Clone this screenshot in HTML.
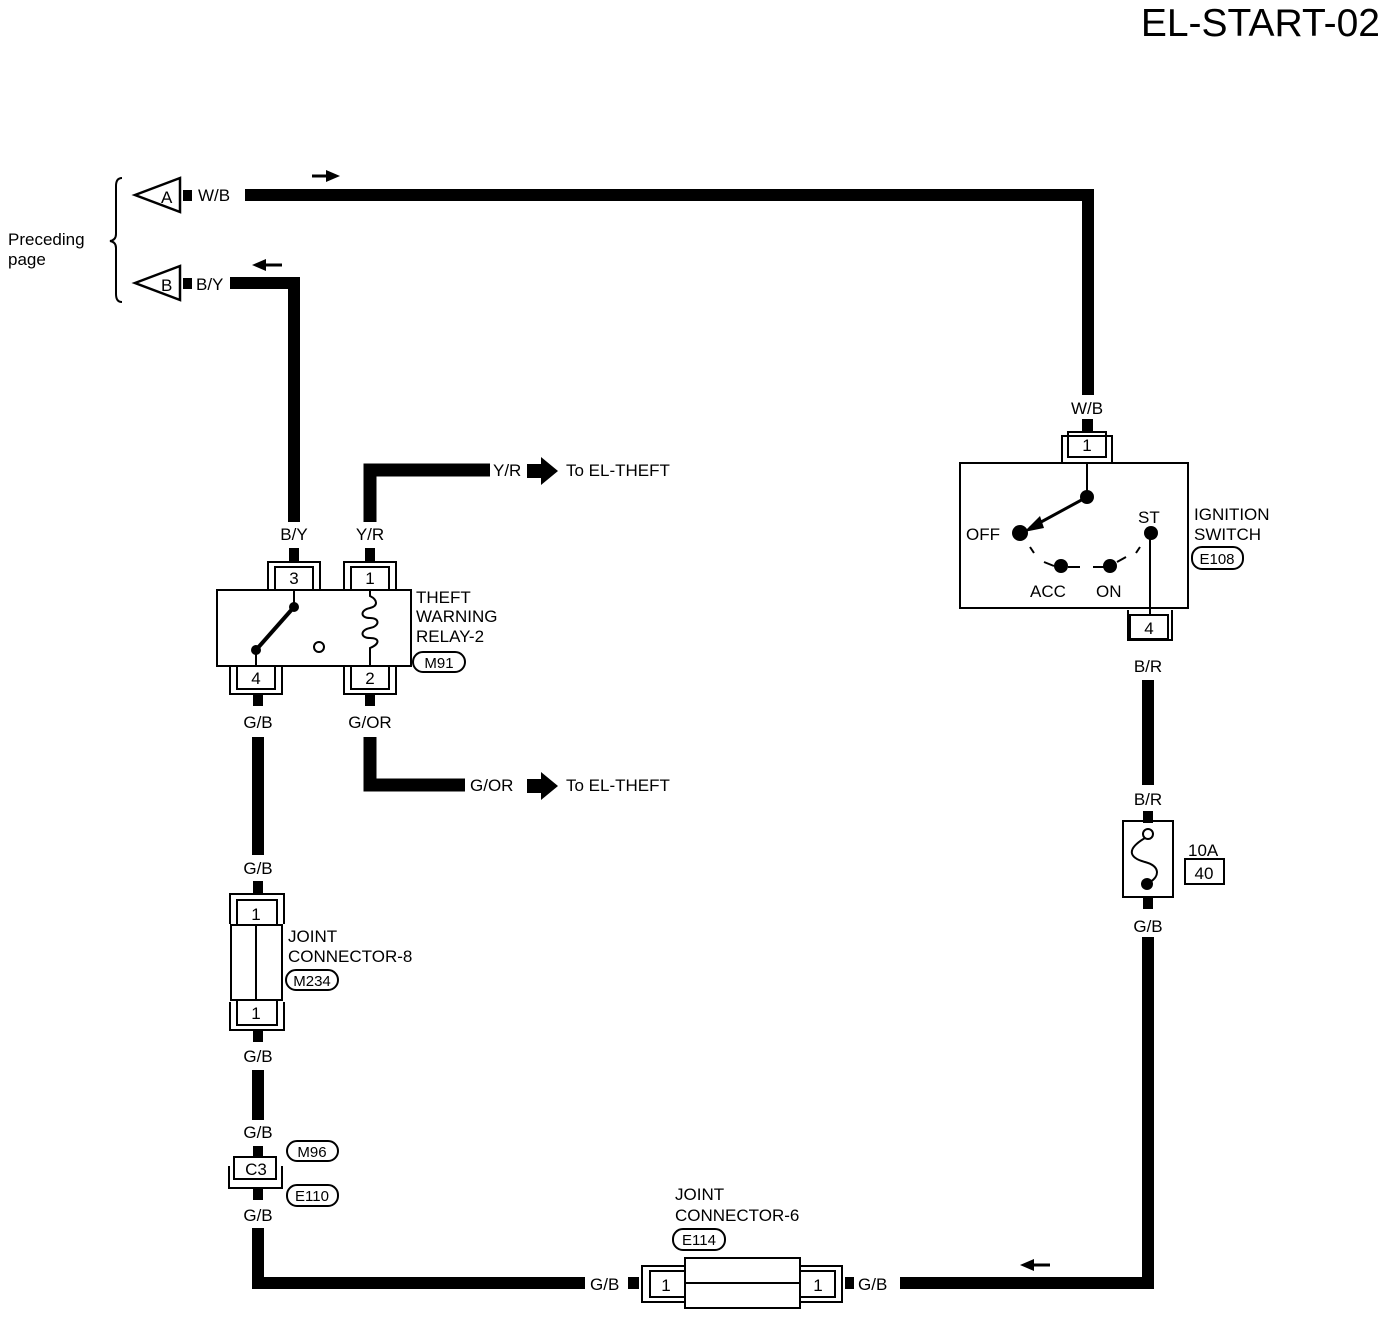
<!DOCTYPE html>
<html><head><meta charset="utf-8"><style>
html,body{margin:0;padding:0;background:#fff}
svg{display:block}
text{font-family:"Liberation Sans",sans-serif;font-size:17px;fill:#000}
</style></head><body>
<svg width="1392" height="1318" viewBox="0 0 1392 1318" xmlns="http://www.w3.org/2000/svg">
<text x="1380" y="36" text-anchor="end" style="font-size:39px">EL-START-02</text>

<path d="M122 178 Q116 178 116 186 L116 234 Q116 240 110 241 Q116 242 116 248 L116 294 Q116 302 122 302" fill="none" stroke="#000" stroke-width="2"/>
<text x="8" y="245">Preceding</text>
<text x="8" y="265">page</text>

<polygon points="135,195 180,178 180,212" fill="#fff" stroke="#000" stroke-width="2.5"/>
<text x="161" y="203" style="font-size:17px">A</text>
<rect x="183" y="190" width="9" height="11"/>
<text x="198" y="201">W/B</text>
<path d="M245 195 H1088 V395" fill="none" stroke="#000" stroke-width="12"/>
<rect x="1082" y="419" width="11" height="14"/>
<path d="M312 176 H330" stroke="#000" stroke-width="3"/><polygon points="340,176 326,170 326,182"/>

<polygon points="135,283 180,266 180,300" fill="#fff" stroke="#000" stroke-width="2.5"/>
<text x="161" y="291" style="font-size:17px">B</text>
<rect x="183" y="278" width="9" height="11"/>
<text x="196" y="290">B/Y</text>
<path d="M230 283 H294 V522" fill="none" stroke="#000" stroke-width="12"/>
<path d="M264 265 H282" stroke="#000" stroke-width="3"/><polygon points="252,265 266,259 266,271"/>

<text x="294" y="540" text-anchor="middle">B/Y</text>
<text x="370" y="540" text-anchor="middle">Y/R</text>
<path d="M370 522 V470 H490" fill="none" stroke="#000" stroke-width="13"/>
<text x="493" y="476">Y/R</text>
<polygon points="527,464 541,464 541,457 558,471 541,485 541,478 527,478"/>
<text x="566" y="476">To EL-THEFT</text>
<rect x="289" y="548" width="10" height="14"/><rect x="365" y="548" width="10" height="14"/>
<g fill="none" stroke="#000" stroke-width="2">
<path d="M268 590 V562 H320 V590"/><rect x="275" y="567" width="38" height="23"/>
<path d="M344 590 V562 H396 V590"/><rect x="351" y="567" width="38" height="23"/>
<rect x="217" y="590" width="194" height="76"/>
<path d="M230 666 V694 H282 V666"/><rect x="237" y="666" width="38" height="23"/>
<path d="M344 666 V694 H396 V666"/><rect x="351" y="666" width="38" height="23"/>
<path d="M294 590 V607"/><path d="M256 650 V666"/>
<circle cx="319" cy="647" r="5"/>
<path d="M370 590 V596 C378 600 378 606 370 608 C360 610 360 618 370 618 C380 618 380 626 370 628 C360 630 360 638 370 638 C380 638 380 644 370 648 V666"/>
</g>
<path d="M294 607 L256 650" stroke="#000" stroke-width="4"/>
<circle cx="294" cy="607" r="5"/><circle cx="256" cy="650" r="5"/>
<text x="294" y="584" text-anchor="middle">3</text><text x="370" y="584" text-anchor="middle">1</text>
<text x="256" y="684" text-anchor="middle">4</text><text x="370" y="684" text-anchor="middle">2</text>
<text x="416" y="603">THEFT</text><text x="416" y="622">WARNING</text><text x="416" y="642">RELAY-2</text>
<rect x="413" y="652" width="52" height="20" rx="10" fill="none" stroke="#000" stroke-width="2"/>
<text x="439" y="668" text-anchor="middle" style="font-size:15px">M91</text>
<rect x="253" y="694" width="10" height="12"/><rect x="365" y="694" width="10" height="12"/>
<text x="258" y="728" text-anchor="middle">G/B</text>
<text x="370" y="728" text-anchor="middle">G/OR</text>
<path d="M370 737 V785 H465" fill="none" stroke="#000" stroke-width="13"/>
<text x="470" y="791">G/OR</text>
<polygon points="527,779 541,779 541,772 558,786 541,800 541,793 527,793"/>
<text x="566" y="791">To EL-THEFT</text>
<path d="M258 737 V855" stroke="#000" stroke-width="12"/>

<text x="258" y="874" text-anchor="middle">G/B</text>
<rect x="253" y="881" width="10" height="14"/>
<g fill="none" stroke="#000" stroke-width="2">
<path d="M230 924 V894 H284 V924"/><rect x="237" y="900" width="40" height="25"/>
<rect x="231" y="925" width="51" height="75"/><path d="M256 925 V1000"/>
<path d="M230 1002 V1030 H284 V1002"/><rect x="237" y="1000" width="40" height="25"/>
</g>
<text x="256" y="920" text-anchor="middle">1</text><text x="256" y="1019" text-anchor="middle">1</text>
<text x="288" y="942">JOINT</text><text x="288" y="962">CONNECTOR-8</text>
<rect x="286" y="970" width="52" height="20" rx="10" fill="none" stroke="#000" stroke-width="2"/>
<text x="312" y="986" text-anchor="middle" style="font-size:15px">M234</text>
<rect x="253" y="1030" width="10" height="12"/>
<text x="258" y="1062" text-anchor="middle">G/B</text>
<path d="M258 1070 V1120" stroke="#000" stroke-width="12"/>
<text x="258" y="1138" text-anchor="middle">G/B</text>
<rect x="253" y="1146" width="10" height="12"/>
<g fill="none" stroke="#000" stroke-width="2">
<rect x="234" y="1157" width="42" height="22"/><path d="M229 1166 V1188 H282 V1166"/>
</g>
<text x="256" y="1175" text-anchor="middle">C3</text>
<rect x="287" y="1141" width="51" height="20" rx="10" fill="none" stroke="#000" stroke-width="2"/>
<text x="312" y="1157" text-anchor="middle" style="font-size:15px">M96</text>
<rect x="287" y="1185" width="51" height="21" rx="10" fill="none" stroke="#000" stroke-width="2"/>
<text x="312" y="1201" text-anchor="middle" style="font-size:15px">E110</text>
<rect x="253" y="1188" width="10" height="12"/>
<text x="258" y="1221" text-anchor="middle">G/B</text>
<path d="M258 1228 V1283 H585" fill="none" stroke="#000" stroke-width="12"/>
<text x="590" y="1290">G/B</text>
<rect x="628" y="1277" width="11" height="12"/>

<g fill="none" stroke="#000" stroke-width="2">
<path d="M685 1266 H642 V1302 H685"/><rect x="650" y="1271" width="35" height="26"/>
<rect x="685" y="1258" width="115" height="50"/><path d="M685 1283 H800"/>
<path d="M800 1266 H842 V1302 H800"/><rect x="800" y="1271" width="35" height="26"/>
</g>
<text x="666" y="1291" text-anchor="middle">1</text><text x="818" y="1291" text-anchor="middle">1</text>
<text x="675" y="1200">JOINT</text><text x="675" y="1221">CONNECTOR-6</text>
<rect x="673" y="1229" width="52" height="21" rx="10" fill="none" stroke="#000" stroke-width="2"/>
<text x="699" y="1245" text-anchor="middle" style="font-size:15px">E114</text>
<rect x="845" y="1277" width="9" height="12"/>
<text x="858" y="1290">G/B</text>
<path d="M900 1283 H1148 V937" fill="none" stroke="#000" stroke-width="12"/>
<path d="M1032 1265 H1050" stroke="#000" stroke-width="3"/><polygon points="1020,1265 1034,1259 1034,1271"/>

<text x="1087" y="414" text-anchor="middle">W/B</text>
<g fill="none" stroke="#000" stroke-width="2">
<path d="M1062 463 V436 H1112 V463"/><rect x="1068" y="432" width="38" height="25"/>
<rect x="960" y="463" width="228" height="145"/>
<path d="M1087 463 V497"/>
<path d="M1128 610 V640 H1172 V610"/><rect x="1130" y="615" width="38" height="24"/>
<path d="M1150 533 V615"/>
<path d="M1030 547 L1034 553"/><path d="M1044 562 L1054 566 M1068 567 L1080 567"/><path d="M1093 567 L1104 567 M1117 562 L1126 557"/><path d="M1140 547 L1136 553"/>
</g>
<path d="M1087 497 L1030 528" stroke="#000" stroke-width="3"/>
<polygon points="1024,532 1040,516 1044,528"/>
<circle cx="1087" cy="497" r="7"/><circle cx="1020" cy="533" r="8"/>
<circle cx="1061" cy="566" r="7"/><circle cx="1110" cy="566" r="7"/><circle cx="1151" cy="533" r="7"/>
<text x="1087" y="451" text-anchor="middle">1</text><text x="1149" y="634" text-anchor="middle">4</text>
<text x="966" y="540">OFF</text><text x="1030" y="597">ACC</text><text x="1096" y="597">ON</text><text x="1138" y="523">ST</text>
<text x="1194" y="520">IGNITION</text><text x="1194" y="540">SWITCH</text>
<rect x="1192" y="547" width="51" height="22" rx="10" fill="none" stroke="#000" stroke-width="2"/>
<text x="1217" y="564" text-anchor="middle" style="font-size:15px">E108</text>
<text x="1148" y="672" text-anchor="middle">B/R</text>
<path d="M1148 680 V785" stroke="#000" stroke-width="12"/>
<text x="1148" y="805" text-anchor="middle">B/R</text>
<rect x="1143" y="811" width="10" height="12"/>
<rect x="1123" y="821" width="50" height="76" fill="none" stroke="#000" stroke-width="2"/>
<circle cx="1148" cy="834" r="5" fill="#fff" stroke="#000" stroke-width="2"/>
<path d="M1145 838 C1125 850 1130 858 1145 862 C1160 866 1160 876 1150 882" fill="none" stroke="#000" stroke-width="2"/>
<circle cx="1147" cy="884" r="6"/>
<rect x="1143" y="897" width="10" height="12"/>
<text x="1188" y="856">10A</text>
<rect x="1185" y="859" width="39" height="25" fill="none" stroke="#000" stroke-width="2"/>
<text x="1204" y="879" text-anchor="middle">40</text>
<text x="1148" y="932" text-anchor="middle">G/B</text>
</svg>
</body></html>
